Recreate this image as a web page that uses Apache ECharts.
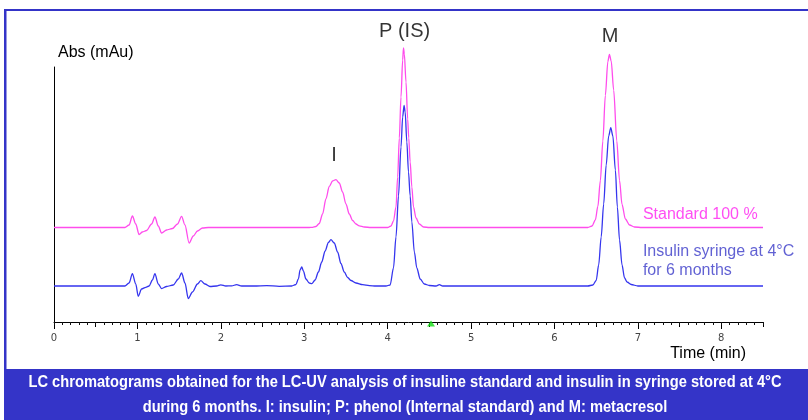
<!DOCTYPE html>
<html><head><meta charset="utf-8">
<script src="https://cdn.jsdelivr.net/npm/echarts@6/dist/echarts.min.js"></script>
<style>html,body{margin:0;padding:0;background:#fff}#c{width:808px;height:420px}</style>
</head><body><div id="c"></div>
<script>
// Retention time (min), absorbance (arbitrary mAU units)
const standardTrace = [[0,94.5],[0.5,94.5],[0.85,94.5],[0.9,97],[0.94,106],[0.98,98],[1.02,87.5],[1.06,90],[1.11,91.5],[1.17,98],[1.21,105],[1.25,96],[1.29,89],[1.35,92],[1.42,93.5],[1.48,98],[1.53,105.7],[1.57,97],[1.62,79],[1.67,86],[1.72,91],[1.78,94],[1.85,94.5],[2.3,94.5],[2.8,94.5],[3.06,94.5],[3.10,94.6],[3.14,95.5],[3.18,98.5],[3.22,108],[3.26,123],[3.30,135.5],[3.34,141],[3.38,142.4],[3.42,139],[3.46,130],[3.50,118],[3.54,108],[3.58,101.5],[3.62,98],[3.66,96.2],[3.72,95],[3.80,94.5],[3.9,94.5],[4.0,94.5],[4.04,96],[4.07,101],[4.10,115],[4.12,145],[4.14,184],[4.16,225],[4.18,262],[4.19,274],[4.20,268],[4.22,240],[4.24,203],[4.253,184],[4.27,160],[4.29,135],[4.31,115],[4.34,104],[4.38,98],[4.43,95],[4.5,94.5],[5.0,94.5],[5.7,94.5],[6.3,94.5],[6.4,94.5],[6.45,96],[6.49,102],[6.52,115.5],[6.55,141.3],[6.58,181],[6.61,226.6],[6.64,260.4],[6.659,267.7],[6.68,261],[6.71,231.8],[6.747,181.1],[6.78,141.5],[6.81,117.5],[6.85,103],[6.90,97],[6.96,95],[7.05,94.5],[7.5,94.5],[8.0,94.5],[8.5,94.5]];
const syringeTrace = [[0,36],[0.5,36],[0.85,36],[0.9,39],[0.94,48.4],[0.98,38],[1.01,25.7],[1.05,33],[1.10,34.7],[1.14,36],[1.18,42],[1.21,48.4],[1.25,38],[1.29,33.4],[1.35,35.5],[1.43,37],[1.49,43],[1.53,49],[1.57,39],[1.61,23.4],[1.66,30],[1.72,38],[1.76,41.4],[1.81,38],[1.87,35.5],[1.95,36],[2.0,37.2],[2.06,36],[2.13,36.2],[2.19,37.3],[2.25,36],[2.4,36],[2.55,36.4],[2.7,35.7],[2.85,36],[2.90,37.5],[2.93,43],[2.95,52],[2.97,55],[2.99,51],[3.02,43],[3.06,39],[3.09,38.4],[3.13,42],[3.17,50],[3.21,60],[3.25,71],[3.29,79.5],[3.32,82.4],[3.36,79],[3.40,70],[3.44,58.5],[3.48,50],[3.52,44.5],[3.56,41.5],[3.62,39],[3.70,37.3],[3.78,36.4],[3.86,36],[3.98,36],[4.03,37],[4.07,54],[4.10,85],[4.13,126],[4.16,175],[4.18,205],[4.197,216.7],[4.21,210],[4.23,180],[4.25,150],[4.27,126],[4.29,100],[4.32,70],[4.35,54],[4.39,43],[4.44,38],[4.5,36.5],[4.58,36],[4.62,37.3],[4.66,36],[5.0,36],[5.5,36],[6.0,36],[6.4,36],[6.46,37],[6.50,41.5],[6.53,57],[6.56,85],[6.59,118],[6.62,157],[6.65,186],[6.675,194.4],[6.70,186],[6.73,152],[6.754,115],[6.78,82],[6.81,57],[6.84,44],[6.87,40],[6.92,37.5],[7.0,36],[7.5,36],[8.0,36],[8.5,36]];
const peakNames = ['I', 'P (IS)', 'M'];
const peakLabelPos = [[3.357,166.7],[4.203,290.7],[6.667,285.7]];
const traceNames = ['Standard 100 %', 'Insulin syringe at 4°C\nfor 6 months'];
const traceLabelPos = [[7.06,107.7],[7.06,60.8]];
const injectionMark = [[4.52,-1.5]];
const xTickValues = [0,1,2,3,4,5,6,7,8];
const xTickLabels = ['0','1','2','3','4','5','6','7','8'];
const captionLines = ['LC chromatograms obtained for the LC-UV analysis of insuline standard and insulin in syringe stored at 4°C',
  'during 6 months. I: insulin; P: phenol (Internal standard) and M: metacresol'];

const FONT = '"Liberation Sans", Arial, sans-serif';
const PINK = '#ff4cec', BLUE = '#3535ee', FRAME = '#3434c8';
const CAP_FONT = 'bold 16px "Liberation Sans", Arial, sans-serif';

const mctx = document.createElement('canvas').getContext('2d');
mctx.font = CAP_FONT;
const capScale = 753 / mctx.measureText(captionLines[0]).width;

const chart = echarts.init(document.getElementById('c'), null, {renderer: 'canvas'});
const baseX = {type: 'value', min: 0, max: 8.5, position: 'bottom', splitLine: {show: false}};
chart.setOption({
  animation: false,
  backgroundColor: '#fff',
  grid: {left: 54, right: 45, top: 67, bottom: 98},
  xAxis: [
    Object.assign({}, baseX, {
      interval: 1,
      axisLine: {show: true, lineStyle: {color: '#000', width: 1}},
      axisTick: {show: true, length: 7, customValues: xTickValues, lineStyle: {color: '#000'}},
      axisLabel: {show: true, margin: 11, fontSize: 10, color: '#444', fontFamily: 'DejaVu Sans',
        customValues: xTickValues, formatter: v => xTickLabels[xTickValues.indexOf(v)] || ''},
      name: 'Time (min)', nameLocation: 'end', nameGap: -17,
      nameTextStyle: {fontFamily: FONT, fontSize: 16, color: '#000', align: 'right', verticalAlign: 'top', padding: [24, 0, 0, 0]}
    }),
    Object.assign({}, baseX, {
      interval: 0.5, axisLine: {show: false}, axisLabel: {show: false},
      axisTick: {show: true, length: 5, lineStyle: {color: '#000'}}
    }),
    Object.assign({}, baseX, {
      interval: 0.1, axisLine: {show: false}, axisLabel: {show: false},
      axisTick: {show: true, length: 3, lineStyle: {color: '#111'}}
    })
  ],
  yAxis: {
    type: 'value', min: 0, max: 255,
    axisLine: {show: true, lineStyle: {color: '#000', width: 1}},
    axisTick: {show: false}, axisLabel: {show: false}, splitLine: {show: false},
    name: 'Abs (mAu)', nameLocation: 'end', nameGap: 14,
    nameTextStyle: {fontFamily: FONT, fontSize: 16, color: '#000', align: 'left', verticalAlign: 'middle', padding: [0, 0, 0, 4]}
  },
  series: [
    {type: 'line', name: traceNames[0], data: standardTrace, showSymbol: false, smooth: 0.3, smoothMonotone: 'x',
      clip: false, lineStyle: {color: PINK, width: 1.3}, z: 3},
    {type: 'line', name: traceNames[1], data: syringeTrace, showSymbol: false, smooth: 0.3, smoothMonotone: 'x',
      clip: false, lineStyle: {color: BLUE, width: 1.3}, z: 4},
    {type: 'scatter', symbolSize: 0, clip: false, silent: true,
      data: peakNames.map((n, i) => ({name: n, value: peakLabelPos[i]})),
      label: {show: true, position: 'inside', formatter: p => p.name, fontFamily: FONT, fontSize: 20, color: '#000'}},
    {type: 'scatter', symbolSize: 0, clip: false, silent: true,
      data: traceNames.map((n, i) => ({name: n, value: traceLabelPos[i],
        label: {color: i === 0 ? '#ff22f0' : '#3a3ac8'}})),
      label: {show: true, position: 'inside', align: 'left', verticalAlign: 'middle', lineHeight: 18.5,
        formatter: p => p.name, fontFamily: FONT, fontSize: 16}},
    {type: 'scatter', symbol: 'triangle', symbolSize: [8, 6], clip: false, silent: true,
      data: injectionMark, itemStyle: {color: '#11dd11'}, z: 5}
  ],
  graphic: [
    {type: 'rect', shape: {x: 4, y: 9, width: 2.5, height: 411}, style: {fill: FRAME}},
    {type: 'rect', shape: {x: 4, y: 9, width: 804, height: 2}, style: {fill: FRAME}},
    {type: 'rect', shape: {x: 4, y: 369, width: 804, height: 51}, style: {fill: FRAME}},
    {type: 'text', x: 405, y: 383, scaleX: capScale,
      style: {text: captionLines[0], fill: '#fff', font: CAP_FONT, textAlign: 'center', textVerticalAlign: 'middle'}},
    {type: 'text', x: 405, y: 408, scaleX: capScale,
      style: {text: captionLines[1], fill: '#fff', font: CAP_FONT, textAlign: 'center', textVerticalAlign: 'middle'}}
  ]
});
</script></body></html>
